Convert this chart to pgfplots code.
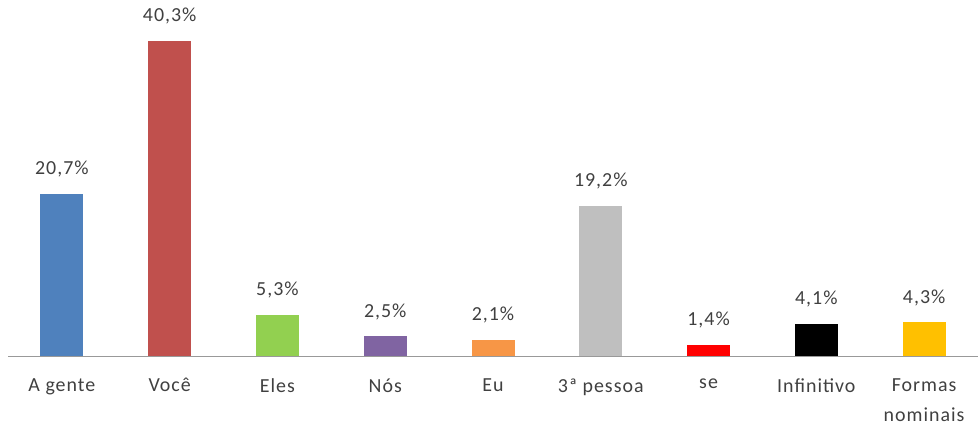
\documentclass[border=0pt]{standalone}
\usepackage{pgfplots}
\pgfplotsset{compat=1.18}
\usepackage{fontspec}
\setmainfont{Carlito}[LetterSpace=5]
\definecolor{c1}{HTML}{4F81BD}
\definecolor{c2}{HTML}{C0504D}
\definecolor{c3}{HTML}{92D050}
\definecolor{c4}{HTML}{8064A2}
\definecolor{c5}{HTML}{F79646}
\definecolor{c6}{HTML}{BFBFBF}
\definecolor{c7}{HTML}{FF0000}
\definecolor{c8}{HTML}{000000}
\definecolor{c9}{HTML}{FFC000}
\definecolor{txt}{HTML}{404040}
\begin{document}
\begin{tikzpicture}[x=1bp,y=1bp]
\useasboundingbox (0,0) rectangle (978,427);
\begin{axis}[
  at={(8bp,71bp)}, anchor=south west,
  scale only axis, width=970bp, height=356bp,
  xmin=-0.5, xmax=8.5, ymin=0, ymax=45.5,
  axis x line*=bottom, axis y line=none,
  x axis line style={draw=black!40, line width=1pt, -},
  xtick={0,...,8}, major tick length=0pt,
  xticklabels={A gente, Você, Eles, Nós, Eu, 3ª pessoa, se, Infinitivo, {Formas\\nominais}},
  xticklabel style={align=center, font=\fontsize{20}{30}\selectfont, text=txt, yshift=-19bp},
  ybar, bar width=43bp, bar shift=0pt,
  clip=false,
  /pgf/number format/assume math mode=true,
  nodes near coords={\pgfmathprintnumber[fixed,precision=1,fixed zerofill,use comma,assume math mode=true]{\pgfplotspointmeta}\%},
  nodes near coords style={font=\fontsize{20}{22}\selectfont, text=txt, yshift=13bp},
]
\addplot[fill=c1, draw=none] coordinates {(0,20.7)};
\addplot[fill=c2, draw=none] coordinates {(1,40.3)};
\addplot[fill=c3, draw=none] coordinates {(2,5.3)};
\addplot[fill=c4, draw=none] coordinates {(3,2.5)};
\addplot[fill=c5, draw=none] coordinates {(4,2.1)};
\addplot[fill=c6, draw=none] coordinates {(5,19.2)};
\addplot[fill=c7, draw=none] coordinates {(6,1.4)};
\addplot[fill=c8, draw=none] coordinates {(7,4.1)};
\addplot[fill=c9, draw=none] coordinates {(8,4.3)};
\end{axis}
\end{tikzpicture}
\end{document}
